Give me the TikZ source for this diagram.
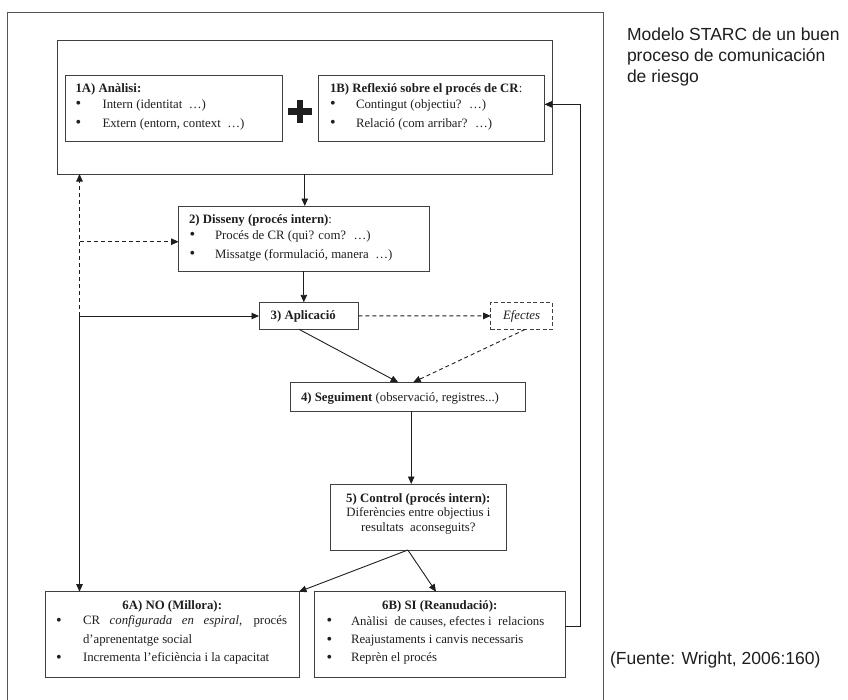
\documentclass[tikz,border=0pt]{standalone}
\usepackage{fontspec}
\setmainfont{Liberation Serif}
\newfontfamily\notefont{Liberation Sans}
\usetikzlibrary{arrows.meta}
\definecolor{edge}{HTML}{404040}
\definecolor{frame}{HTML}{555555}
\definecolor{ink}{HTML}{1E1E1E}
\newcommand\bodysize{\fontsize{12.8}{14.3}\selectfont}
\begin{document}
\begin{tikzpicture}[x=1pt,y=-1pt,
  box/.style={draw=edge, line width=0.95pt, inner sep=0pt, outer sep=0pt},
  dbox/.style={box, dash pattern=on 4pt off 2.5pt},
  txt/.style={anchor=base west, inner sep=0pt, outer sep=0pt, text=ink, font=\bodysize},
  ctxt/.style={txt, anchor=base},
  dot/.style={anchor=base, inner sep=0pt, outer sep=0pt, text=ink,
    font=\fontsize{16}{16}\selectfont},
  flow/.style={draw=ink, line width=0.9pt, -{Triangle[length=7.5pt,width=6.5pt]}},
  dflow/.style={flow, dash pattern=on 4pt off 3pt},
  note/.style={anchor=base west, inner sep=0pt, outer sep=0pt, text=ink,
    font=\notefont\fontsize{17.5}{21}\selectfont}
]
\useasboundingbox (0,0) rectangle (848,699);

% outer frame, open at the bottom
\draw[draw=frame, line width=1pt] (7.7,702) -- (7.7,12.3) -- (603.5,12.3) -- (603.5,702);

% boxes
\node[box, minimum width=494.5pt, minimum height=134pt] (b1) at (304.75,107) {};
\node[box, minimum width=216.5pt, minimum height=65.3pt] (b1a) at (173.75,108.35) {};
\node[box, minimum width=226.5pt, minimum height=65.3pt] (b1b) at (431.25,108.35) {};
\node[box, minimum width=250.4pt, minimum height=65pt] (b2) at (303.8,238.5) {};
\node[box, minimum width=99.3pt, minimum height=27pt] (b3) at (308.65,315.8) {};
\node[dbox, minimum width=61.6pt, minimum height=27.2pt] (ef) at (521.5,315.9) {};
\node[box, minimum width=235pt, minimum height=28.7pt] (b4) at (408.2,396.65) {};
\node[box, minimum width=176.7pt, minimum height=66pt] (b5) at (418.35,517) {};
\node[box, minimum width=253.5pt, minimum height=86pt] (b6a) at (172.25,634.7) {};
\node[box, minimum width=251pt, minimum height=86pt] (b6b) at (439.8,634.7) {};

% plus sign between 1A and 1B
\fill[ink] (288,108) rectangle (312,114.8);
\fill[ink] (296.6,100) rectangle (303.4,122.5);

% 1A
\node[txt, font=\bodysize\bfseries] (t1a) at (75.5,92.5) {1A) Anàlisi:};
\node[dot] (t1a1d) at (78.5,108.5) {\textbullet};
\node[txt] (t1a1) at (102.5,108) {Intern (identitat~ …)};
\node[dot] (t1a2d) at (78.5,127.5) {\textbullet};
\node[txt] (t1a2) at (102.5,127) {Extern (entorn, context~ …)};

% 1B
\node[txt] (t1b) at (330,92.5) {\textbf{1B) Reflexió sobre el procés de CR}:};
\node[dot] (t1b1d) at (333,108.5) {\textbullet};
\node[txt] (t1b1) at (356,108) {Contingut (objectiu?~ …)};
\node[dot] (t1b2d) at (333,127.5) {\textbullet};
\node[txt] (t1b2) at (356,127) {Relació (com arribar?~ …)};

% 2
\node[txt] (t2) at (189,223) {\textbf{2) Disseny (procés intern)}:};
\node[dot] (t21d) at (192.5,239.5) {\textbullet};
\node[txt] (t21) at (215,239) {Procés de CR (qui? com?~ …)};
\node[dot] (t22d) at (192.5,258.5) {\textbullet};
\node[txt] (t22) at (215,258) {Missatge (formulació, manera~ …)};

% 3 and effects
\node[txt, font=\bodysize\bfseries] (t3) at (270.7,319.5) {3) Aplicació};
\node[ctxt, font=\bodysize\itshape] (tef) at (521.5,319.5) {Efectes};

% 4
\node[txt] (t4) at (301,401.7) {\textbf{4) Seguiment} (observació, registres...)};

% 5
\node[ctxt, font=\bodysize\bfseries] (t5) at (418.35,502.3) {5) Control (procés intern):};
\node[ctxt] (t52) at (418.35,516.7) {Diferències entre objectius i};
\node[ctxt] (t53) at (418.35,531) {resultats~ aconseguits?};

% 6A
\node[ctxt, font=\bodysize\bfseries] (t6a) at (172.25,609.3) {6A) NO (Millora):};
\node[dot] (t6a1d) at (59,625) {\textbullet};
\node[txt] (t6a1) at (83,624.5) {\makebox[204pt][s]{CR \textit{configurada en espiral}, procés}};
\node[txt] (t6a1b) at (83,643) {d'aprenentatge social};
\node[dot] (t6a2d) at (59,662) {\textbullet};
\node[txt] (t6a2) at (83,661.5) {Incrementa l'eficiència i la capacitat};

% 6B
\node[ctxt, font=\bodysize\bfseries] (t6b) at (439.8,609.3) {6B) SI (Reanudació):};
\node[dot] (t6b1d) at (329.3,625.5) {\textbullet};
\node[txt] (t6b1) at (351,625) {Anàlisi~ de causes, efectes i~ relacions};
\node[dot] (t6b2d) at (329.3,644) {\textbullet};
\node[txt] (t6b2) at (351,643.5) {Reajustaments i canvis necessaris};
\node[dot] (t6b3d) at (329.3,662) {\textbullet};
\node[txt] (t6b3) at (351,661.5) {Reprèn el procés};

% side notes
\node[note] (cap1) at (627,40.7) {Modelo STARC de un buen};
\node[note] (cap2) at (627,61.7) {proceso de comunicación};
\node[note] (cap3) at (627,82.7) {de riesgo};
\node[note] (src) at (610,664) {(Fuente: Wright, 2006:160)};

% connectors
\coordinate (J) at (79.5,316);
\coordinate (Jd) at (79.5,241.7);
\draw[flow] (b1.south) -- (b1.south |- b2.north);
\draw[flow] (b2.south) -- (b2.south |- b3.north);
\draw[flow] (J) -- (J -| b3.west);
\draw[dflow] (J) -- (J |- b1.south);
\draw[dflow] (Jd) -- (Jd -| b2.west);
\draw[flow] (J) -- (J |- b6a.north);
\draw[dflow] (b3.east) -- (ef.west);
\draw[flow] ([xshift=-9.65pt]b3.south) -- ([xshift=-10pt]b4.north);
\draw[dflow] ([xshift=3.5pt]ef.south) -- ([xshift=5pt]b4.north);
\draw[flow] ([xshift=3pt]b4.south) -- ([xshift=3pt]b4.south |- b5.north);
\draw[flow] ([xshift=-10.5pt]b5.south) -- (b6a.north east);
\draw[flow] ([xshift=-10.5pt]b5.south) -- ([xshift=-3.8pt]b6b.north);
\draw[flow] ([yshift=8pt]b6b.east) -- ++(15,0) |- ([yshift=4pt]b1b.east);
\end{tikzpicture}
\end{document}
